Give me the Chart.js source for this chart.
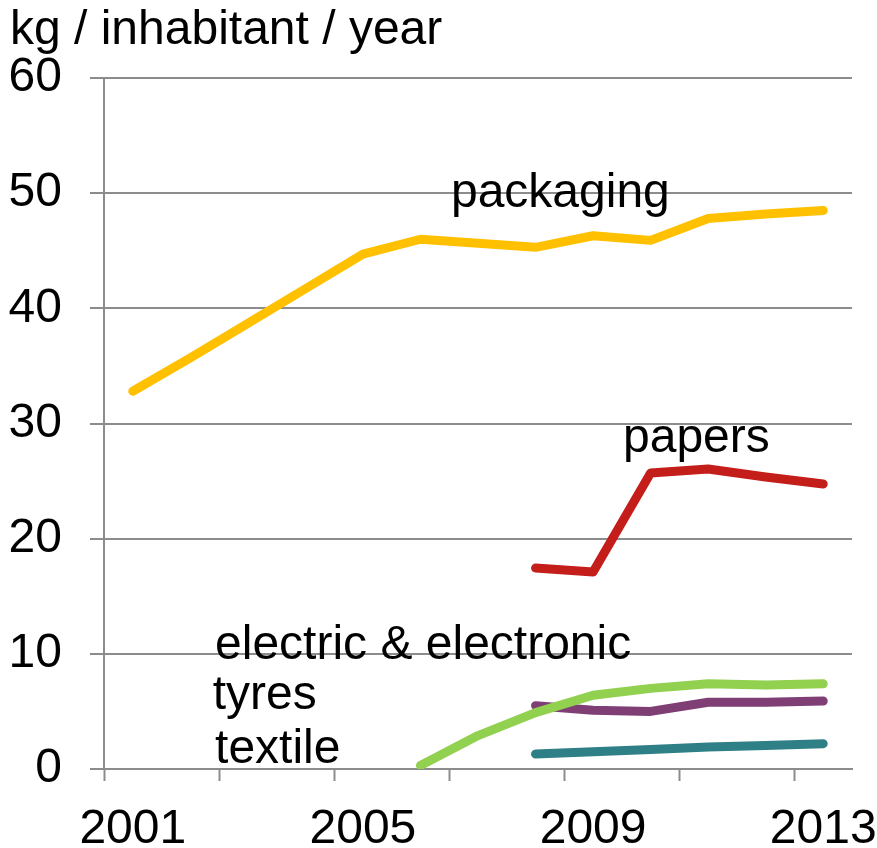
<!DOCTYPE html>
<html><head><meta charset="utf-8">
<script src="https://cdn.jsdelivr.net/npm/chart.js@4.4.0/dist/chart.umd.min.js"></script>
<style>html,body{margin:0;padding:0;background:#fff}canvas{display:block}</style>
</head><body>
<canvas id="c" width="877" height="848"></canvas>
<script>
// ---- data ----
const years = ['2001','2002','2003','2004','2005','2006','2007','2008','2009','2010','2011','2012','2013'];
const packaging = [32.8, 35.7, 38.7, 41.7, 44.7, 46.0, 45.65, 45.3, 46.3, 45.9, 47.8, 48.2, 48.5];
const papers    = [null, null, null, null, null, null, null, 17.45, 17.1, 25.7, 26.05, 25.35, 24.75];
const electric  = [null, null, null, null, null, 0.3, 2.9, 4.9, 6.4, 7.0, 7.4, 7.3, 7.4];
const tyres     = [null, null, null, null, null, null, null, 5.5, 5.1, 5.0, 5.8, 5.8, 5.9];
const textile   = [null, null, null, null, null, null, null, 1.3, 1.5, 1.7, 1.9, 2.05, 2.2];
const shownYears = ['2001', '2005', '2009', '2013'];
const yTicks = [0, 10, 20, 30, 40, 50, 60];
const seriesNames = ['packaging', 'papers', 'electric & electronic', 'tyres', 'textile'];
const unitTitle = 'kg / inhabitant / year';

// ---- styling / label anchors (data coordinates: category index, value) ----
const colors = ['#FFC000', '#C41E1A', '#92D050', '#7F3F75', '#2F7F86'];
const labelAnchors = [[5.53, 48.8], [8.52, 27.5], [1.43, 9.55], [1.39, 5.2], [1.43, 0.52]];
const FONT = '"Liberation Sans", Arial, sans-serif';
const FSIZE = 48;
const GRID = '#8c8c8c';

const seriesData = [packaging, papers, electric, tyres, textile];

const textPlugin = {
  id: 'texts',
  afterDraw(chart) {
    const ctx = chart.ctx;
    const xs = chart.scales.x, ys = chart.scales.y;
    ctx.save();
    ctx.fillStyle = '#000';
    ctx.font = FSIZE + 'px ' + FONT;
    ctx.textAlign = 'left';
    ctx.textBaseline = 'alphabetic';
    ctx.fillText(unitTitle, 10, 44);
    seriesNames.forEach((n, i) => {
      const a = labelAnchors[i];
      ctx.fillText(n, xs.getPixelForValue(a[0]), ys.getPixelForValue(a[1]));
    });
    ctx.restore();
  }
};

new Chart(document.getElementById('c'), {
  type: 'line',
  data: {
    labels: years,
    datasets: seriesData.map((d, i) => ({
      label: seriesNames[i],
      data: d,
      borderColor: colors[i],
      backgroundColor: colors[i],
      borderWidth: 9,
      borderCapStyle: 'round',
      borderJoinStyle: 'round',
      pointRadius: 0,
      tension: 0,
      spanGaps: false
    }))
  },
  options: {
    responsive: false,
    animation: false,
    layout: { padding: { top: 78, right: 25, left: 0, bottom: 0 } },
    plugins: { legend: { display: false }, tooltip: { enabled: false }, title: { display: false } },
    scales: {
      x: {
        type: 'category',
        offset: true,
        grid: {
          offset: true,
          drawOnChartArea: false,
          drawTicks: true,
          tickLength: 12,
          tickWidth: 2,
          tickColor: (c) => (c.index !== undefined && c.index % 2 === 0) ? GRID : 'rgba(0,0,0,0)'
        },
        border: { display: true, color: GRID, width: 2 },
        ticks: {
          autoSkip: false,
          maxRotation: 0,
          minRotation: 0,
          padding: 20,
          color: '#000',
          font: { family: FONT, size: FSIZE },
          callback: function(v, i) { const l = this.getLabelForValue(v); return shownYears.includes(l) ? l : ''; }
        },
        afterFit(s) { s.height = 79; s.paddingLeft = 0; s.paddingRight = 0; }
      },
      y: {
        min: 0, max: 60,
        afterBuildTicks(s) { s.ticks = yTicks.map(v => ({ value: v })); },
        grid: { color: GRID, lineWidth: 2, tickLength: 14, drawTicks: true },
        border: { display: true, color: GRID, width: 2 },
        ticks: { padding: 28, color: '#000', font: { family: FONT, size: FSIZE } },
        afterFit(s) { s.width = 104; s.paddingTop = 0; s.paddingBottom = 0; }
      }
    }
  },
  plugins: [textPlugin]
});
</script>
</body></html>
